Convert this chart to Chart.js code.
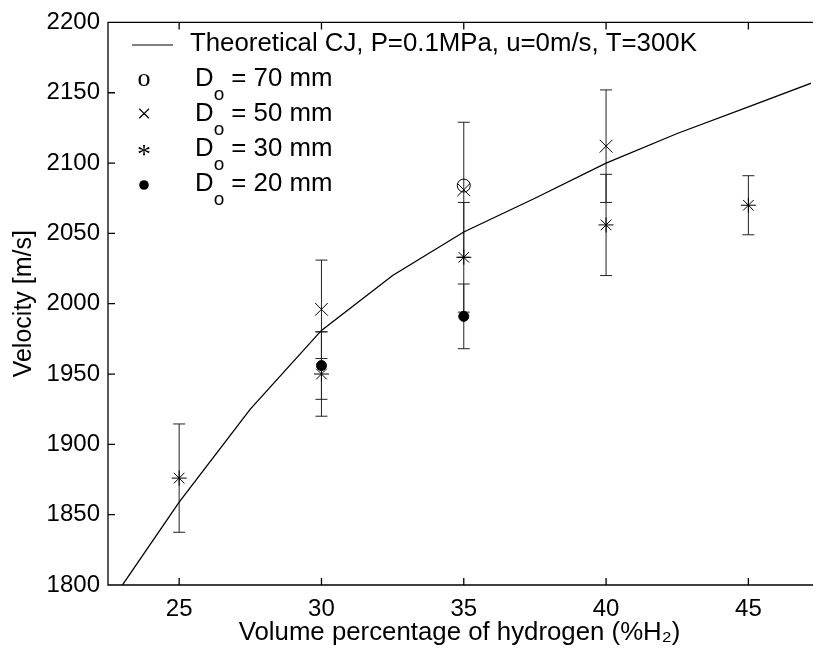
<!DOCTYPE html>
<html><head><meta charset="utf-8">
<script src="https://cdn.jsdelivr.net/npm/chart.js@4/dist/chart.umd.min.js"></script>
<style>html,body{margin:0;padding:0;background:#fff;}#wrap{width:821px;height:650px;}</style>
</head><body><div id="wrap"><canvas id="c" width="821" height="650"></canvas></div>
<script>
// ---- data ----
const xTicks = [25, 30, 35, 40, 45];
const yTicks = [1800, 1850, 1900, 1950, 2000, 2050, 2100, 2150, 2200];

const xCJ = [22.5, 25, 27.5, 30, 32.5, 35, 37.5, 40, 42.5, 45, 47.5];
const vCJ = [1785, 1859, 1925, 1981, 2020, 2051, 2075, 2100, 2121, 2140, 2159];

const x70 = [35];
const v70 = [2084];

const x50 = [30, 35, 40];
const v50 = [1996, 2081, 2112];
const e50 = [35, 48, 40];

const x30 = [25, 30, 35, 40, 45];
const v30 = [1876, 1950, 2033, 2056, 2070];
const e30 = [38.5, 30, 39, 36, 21];

const x20 = [30, 35];
const v20 = [1956, 1991];
const e20 = [24, 23];

const cjLabel = 'Theoretical CJ, P=0.1MPa, u=0m/s, T=300K';
const seriesLabels = ['70 mm', '50 mm', '30 mm', '20 mm'];
const legendGlyphs = ['o', '\u00d7', '*', ''];
const xTitle = 'Volume percentage of hydrogen (%H\u2082)';
const yTitle = 'Velocity [m/s]';

const FONT = "'Liberation Sans', Arial, Helvetica, sans-serif";
const SERIF = "'Liberation Serif', 'Times New Roman', serif";
const pts = (xs, ys) => xs.map((x, i) => ({x: x, y: ys[i]}));

const errorBars = {
  id: 'errorBars',
  beforeDatasetsDraw(chart) {
    const {ctx, scales: {x, y}} = chart;
    ctx.save();
    ctx.strokeStyle = '#222';
    ctx.lineWidth = 1;
    chart.data.datasets.forEach(ds => {
      if (!ds.errors) return;
      ds.data.forEach((p, i) => {
        const e = ds.errors[i];
        const px = x.getPixelForValue(p.x);
        const y1 = y.getPixelForValue(p.y - e), y2 = y.getPixelForValue(p.y + e);
        ctx.beginPath();
        ctx.moveTo(px, y1); ctx.lineTo(px, y2);
        ctx.moveTo(px - 6, y1); ctx.lineTo(px + 6, y1);
        ctx.moveTo(px - 6, y2); ctx.lineTo(px + 6, y2);
        ctx.stroke();
      });
    });
    ctx.restore();
  }
};

const frame = {
  id: 'frame',
  afterDraw(chart) {
    const {ctx, chartArea: {left, top, right, bottom}, scales: {x, y}} = chart;
    ctx.save();
    ctx.strokeStyle = '#000';
    ctx.lineWidth = 1.3;
    ctx.beginPath();
    ctx.moveTo(right + 2, top); ctx.lineTo(left, top); ctx.lineTo(left, bottom); ctx.lineTo(right + 2, bottom);
    const tl = 7;
    x.ticks.forEach(t => {
      const px = x.getPixelForValue(t.value);
      ctx.moveTo(px, bottom); ctx.lineTo(px, bottom - tl);
      ctx.moveTo(px, top); ctx.lineTo(px, top + tl);
    });
    y.ticks.forEach(t => {
      const py = y.getPixelForValue(t.value);
      ctx.moveTo(left, py); ctx.lineTo(left + tl, py);
    });
    ctx.stroke();

    // legend
    ctx.fillStyle = '#000';
    ctx.textBaseline = 'middle';
    ctx.textAlign = 'left';
    const rowY = [44, 78.5, 114, 149, 184];
    ctx.lineWidth = 1.2;
    ctx.beginPath(); ctx.moveTo(132, 45); ctx.lineTo(173, 45); ctx.stroke();
    ctx.font = '25.8px ' + FONT;
    ctx.fillText(cjLabel, 190, rowY[0]);
    seriesLabels.forEach((lab, i) => {
      const yy = rowY[i + 1];
      ctx.textAlign = 'center';
      if (i === 3) {
        ctx.beginPath(); ctx.arc(144, yy + 1, 4.8, 0, Math.PI * 2); ctx.fill();
      } else if (i === 2) {
        ctx.font = '28px ' + SERIF;
        ctx.fillText(legendGlyphs[i], 144, yy + 7);
      } else {
        ctx.font = '26px ' + SERIF;
        ctx.fillText(legendGlyphs[i], 144, yy + 1);
      }
      ctx.textAlign = 'left';
      ctx.font = '25.8px ' + FONT;
      ctx.fillText('D', 195, yy);
      const dw = ctx.measureText('D').width;
      ctx.font = '19px ' + FONT;
      ctx.fillText('o', 195 + dw, yy + 16);
      const ow = ctx.measureText('o').width;
      ctx.font = '25.8px ' + FONT;
      ctx.fillText(' = ' + lab, 195 + dw + ow, yy);
    });
    ctx.restore();
  }
};

new Chart(document.getElementById('c'), {
  type: 'scatter',
  data: {
    datasets: [
      {label: cjLabel, type: 'line', data: pts(xCJ, vCJ), showLine: true, borderColor: '#000', borderWidth: 1.3,
       pointRadius: 0, tension: 0, fill: false},
      {label: seriesLabels[0], data: pts(x70, v70), pointStyle: 'circle', pointRadius: 6.5,
       borderColor: '#000', backgroundColor: 'rgba(0,0,0,0)', borderWidth: 1},
      {label: seriesLabels[1], data: pts(x50, v50), errors: e50, pointStyle: 'crossRot', pointRadius: 9,
       borderColor: '#000', backgroundColor: '#000', borderWidth: 1},
      {label: seriesLabels[2], data: pts(x30, v30), errors: e30, pointStyle: 'star', pointRadius: 7.5,
       borderColor: '#000', backgroundColor: '#000', borderWidth: 1},
      {label: seriesLabels[3], data: pts(x20, v20), errors: e20, pointStyle: 'circle', pointRadius: 5,
       borderColor: '#000', backgroundColor: '#000', borderWidth: 1}
    ]
  },
  options: {
    responsive: false,
    animation: false,
    devicePixelRatio: 1,
    layout: {padding: {top: 18, left: 0, right: 0, bottom: 0}},
    plugins: {legend: {display: false}, tooltip: {enabled: false}},
    scales: {
      x: {
        type: 'linear', position: 'bottom', min: 22.5, max: 47.2,
        afterBuildTicks: s => { s.ticks = xTicks.map(v => ({value: v})); },
        afterFit: s => { s.height = 65; },
        grid: {display: false, drawTicks: false, tickLength: 0},
        border: {display: false},
        ticks: {color: '#000', font: {family: FONT, size: 24}, padding: 10, maxRotation: 0, callback: v => String(v)},
        title: {display: true, text: xTitle, color: '#000', font: {family: FONT, size: 25.8}, padding: {top: 0, bottom: 2}}
      },
      y: {
        type: 'linear', min: 1800, max: 2200,
        afterBuildTicks: s => { s.ticks = yTicks.map(v => ({value: v})); },
        afterFit: s => { s.width = 108; },
        grid: {display: false, drawTicks: false, tickLength: 0},
        border: {display: false},
        ticks: {color: '#000', font: {family: FONT, size: 24}, padding: 8, callback: v => String(v)},
        title: {display: true, text: yTitle, color: '#000', font: {family: FONT, size: 25}, padding: {top: 9, bottom: 0}}
      }
    }
  },
  plugins: [errorBars, frame]
});
</script></body></html>
